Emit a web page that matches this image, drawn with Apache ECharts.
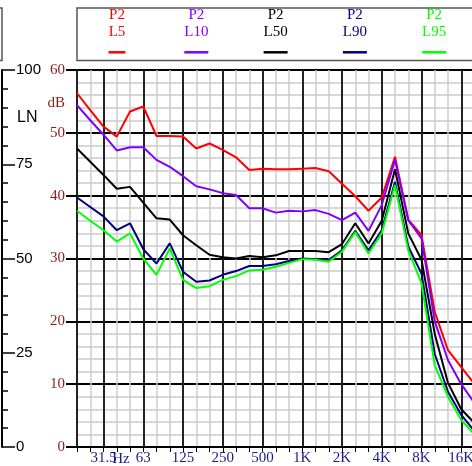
<!DOCTYPE html>
<html>
<head>
<meta charset="utf-8">
<script src="https://cdn.jsdelivr.net/npm/echarts@6/dist/echarts.min.js"></script>
<style>
  html, body { margin: 0; padding: 0; background: #fff; }
  #chart { width: 472px; height: 466px; }
</style>
</head>
<body>
<div id="chart"></div>
<script>
// 1/3 octave bands, 20 Hz .. 25 kHz
const bands = ["20", "25", "31.5", "40", "50", "63", "80", "100", "125", "160", "200", "250",
  "315", "400", "500", "630", "800", "1K", "1.25K", "1.6K", "2K", "2.5K", "3.15K", "4K",
  "5K", "6.3K", "8K", "10K", "12.5K", "16K", "20K", "25K"];

const seriesNames = ["L5", "L10", "L50", "L90", "L95"];
const seriesColors = ["#ff0000", "#8000ff", "#000000", "#000080", "#00ff00"];

const l5 = [56.3, 53.6, 51.0, 49.4, 53.4, 54.2, 49.5, 49.5, 49.4, 47.5, 48.3, 47.3, 46.1, 44.1, 44.3,
  44.2, 44.2, 44.3, 44.4, 43.9, 41.9, 39.9, 37.6, 39.7, 46.2, 36.2, 33.7, 21.5, 15.4, 12.7, 10.0];
const l10 = [54.4, 52.0, 49.7, 47.2, 47.7, 47.7, 45.7, 44.6, 43.1, 41.5, 41.0, 40.4, 40.1, 38.0, 38.0,
  37.3, 37.6, 37.5, 37.7, 37.1, 36.1, 37.3, 34.4, 38.5, 45.7, 36.1, 33.2, 20.0, 13.8, 10.0, 7.0];
const l50 = [47.5, 45.4, 43.3, 41.1, 41.4, 38.9, 36.4, 36.2, 33.7, 32.1, 30.6, 30.2, 30.0, 30.4, 30.2,
  30.5, 31.2, 31.2, 31.2, 31.0, 32.3, 35.6, 32.4, 36.0, 44.2, 34.0, 29.8, 18.0, 10.2, 6.0, 3.8];
const l90 = [39.7, 38.2, 36.7, 34.5, 35.6, 31.5, 29.2, 32.4, 27.9, 26.3, 26.5, 27.4, 28.0, 28.8, 28.8,
  29.1, 29.6, 30.0, 29.9, 29.8, 31.3, 34.4, 31.3, 34.5, 42.2, 31.9, 27.6, 14.8, 8.8, 5.1, 2.5];
const l95 = [37.6, 36.0, 34.5, 32.7, 34.0, 30.0, 27.4, 31.6, 26.6, 25.3, 25.6, 26.6, 27.2, 28.1, 28.2,
  28.7, 29.3, 29.9, 29.8, 29.5, 31.1, 34.2, 30.8, 34.0, 41.7, 31.3, 26.1, 13.0, 8.0, 4.3, 2.0];
const seriesData = [l5, l10, l50, l90, l95];

const isMajor = (i) => i % 3 === 2; // 31.5, 63, 125 ... 16K

const chart = echarts.init(document.getElementById("chart"));

const serif = "Liberation Serif";
const sans = "Liberation Sans";

// legend drawn by hand: "P2" / name / short line
const legendItems = [];
seriesNames.forEach((name, i) => {
  const cx = 117 + i * 79.3;
  const c = seriesColors[i];
  const half = i === 0 ? 8.5 : 12;
  legendItems.push(
    { type: "text", x: cx, y: 15, style: { text: "P2", fill: c, font: "15px " + serif, align: "center", verticalAlign: "middle" } },
    { type: "text", x: cx, y: 32.5, style: { text: name, fill: c, font: "15px " + serif, align: "center", verticalAlign: "middle" } },
    { type: "line", shape: { x1: cx - half, y1: 52.3, x2: cx + half, y2: 52.3 }, style: { stroke: c, lineWidth: 2.5 } }
  );
});

const option = {
  animation: false,
  grid: { left: 77, top: 70, width: 410.75, height: 377, containLabel: false, outerBoundsMode: "none" },
  xAxis: [
    {
      type: "category",
      data: bands,
      boundaryGap: false,
      axisLine: { lineStyle: { color: "#000", width: 2 } },
      axisTick: { show: true, interval: 0, length: 5, lineStyle: { color: "#000", width: 1 } },
      axisLabel: {
        interval: (i) => isMajor(i),
        color: "#1a1a8c",
        fontFamily: serif,
        fontSize: 15,
        margin: 4
      },
      splitLine: { show: true, interval: 0, lineStyle: { color: "#cccccc", width: 1.5 } }
    },
    {
      type: "category",
      data: bands,
      boundaryGap: false,
      position: "bottom",
      axisLine: { show: false },
      axisTick: { show: false },
      axisLabel: { show: false },
      splitLine: { show: true, interval: (i) => isMajor(i), lineStyle: { color: "#222", width: 2 } }
    }
  ],
  yAxis: [
    {
      type: "value",
      min: 0,
      max: 60,
      interval: 10,
      axisLine: { show: true, lineStyle: { color: "#222", width: 2 } },
      axisTick: { show: true, length: 11, lineStyle: { color: "#000", width: 2 } },
      axisLabel: { color: "#8b1a1a", fontFamily: serif, fontSize: 15, margin: 12 },
      splitLine: { show: true, lineStyle: { color: "#000", width: 2 } },
      minorTick: { show: false, splitNumber: 5 },
      minorSplitLine: { show: true, lineStyle: { color: "#cccccc", width: 1.5 } }
    },
    {
      type: "value",
      min: 0,
      max: 100,
      interval: 25,
      position: "left",
      offset: 75,
      axisLine: { show: true, lineStyle: { color: "#000", width: 2 } },
      axisTick: { show: true, inside: true, length: 13, lineStyle: { color: "#000", width: 1.5 } },
      minorTick: { show: true, splitNumber: 5, length: 6, lineStyle: { color: "#000", width: 1.5 } },
      axisLabel: { inside: true, margin: 14, color: "#000", fontFamily: sans, fontSize: 15 },
      splitLine: { show: false }
    }
  ],
  series: seriesNames.map((name, i) => ({
    name: name,
    type: "line",
    data: seriesData[i],
    symbol: "none",
    lineStyle: { color: seriesColors[i], width: 2 },
    z: 3 + i
  })),
  graphic: [
    { type: "rect", shape: { x: 77, y: 8, width: 430, height: 52.5 }, style: { fill: "none", stroke: "#555", lineWidth: 1.5 } },
    { type: "rect", shape: { x: -60, y: 8, width: 62, height: 52.5 }, style: { fill: "none", stroke: "#555", lineWidth: 1.5 } },
    { type: "text", x: 65, y: 103, style: { text: "dB", fill: "#8b1a1a", font: "15px " + serif, align: "right", verticalAlign: "middle" } },
    { type: "text", x: 17, y: 118, style: { text: "LN", fill: "#000", font: "16px " + sans, align: "left", verticalAlign: "middle" } },
    { type: "text", x: 121, y: 459, z: 10, style: { text: "Hz", fill: "#1a1a8c", font: "15px " + serif, align: "center", verticalAlign: "middle" } }
  ].concat(legendItems)
};

chart.setOption(option);
window.addEventListener("resize", () => chart.resize());
</script>
</body>
</html>
